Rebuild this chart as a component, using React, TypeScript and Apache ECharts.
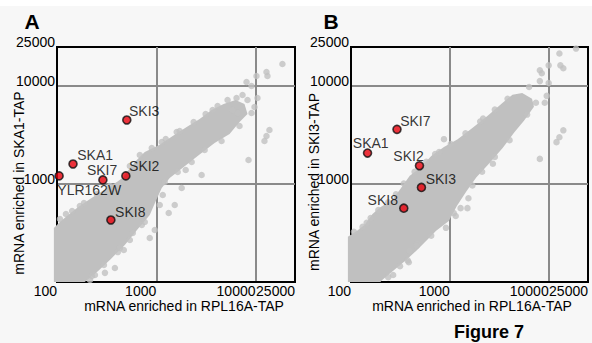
import { useEffect, useRef } from 'react';
import * as echarts from 'echarts';

const FONT = 'Arial, "Liberation Sans", Helvetica, sans-serif';

// Axis extent and tick labels (both panels, both axes: log scale)
const AXIS_MIN = 100;
const AXIS_MAX = 25000;
const xTickLabels = ['100', '1000', '10000', '25000'];
const yTickLabels = ['1000', '10000', '25000'];

const xAxisTitle = 'mRNA enriched in RPL16A-TAP';
const yAxisTitleA = 'mRNA enriched in SKA1-TAP';
const yAxisTitleB = 'mRNA enriched in SKI3-TAP';

// ---------- Panel A (SKA1-TAP vs RPL16A-TAP) ----------
// outline of the dense core of the gray cloud [RPL16A, SKA1]
const cloudOutlineA: number[][] = [
  [93, 100], [93, 356], [107, 410], [126, 471], [159, 569], [215, 703], [297, 869],
  [401, 1048], [471, 1178], [542, 1456], [637, 1758], [766, 2122], [1072, 2500],
  [1465, 3090], [2026, 3817], [2736, 4603], [3613, 5689], [4770, 6550], [6295, 7197],
  [7745, 6550], [8310, 5180], [6906, 4293], [5480, 3236], [3871, 2620], [2613, 1931],
  [1890, 1491], [1367, 1152], [1136, 910], [1000, 687], [860, 483], [652, 347],
  [482, 239], [349, 172], [258, 129], [190, 100],
];
// individual gray points (edges and outliers)
const cloudPointsA: number[][] = [
  [18670, 16770], [12900, 13900], [13200, 12650], [10230, 12650], [8120, 10990],
  [9120, 10000], [6440, 7540], [8310, 7200], [9770, 6106], [5870, 5690], [3696, 5690],
  [6590, 5303], [7400, 8094], [9120, 5303], [10470, 7540],
  [13820, 3556], [12900, 3090], [12310, 2747], [8505, 1758], [2866, 1236], [1804, 910],
  [1535, 611], [1335, 506], [966, 339], [860, 281], [580, 316], [471, 212], [383, 139],
  [304, 124], [215, 105],
  [3072, 2223], [2274, 1677], [1644, 1326], [1217, 1048], [1163, 772], [1084, 611],
  [766, 410], [542, 268], [410, 202], [297, 149], [241, 118],
  [6900, 3910], [4550, 2750], [1980, 1390], [715, 382], [430, 222], [225, 115],
  [1136, 2683], [1607, 3393],
  [107, 440], [142, 530], [187, 640], [252, 791], [341, 954], [683, 1977], [901, 2330],
  [1246, 2879], [1722, 3474], [2382, 4292], [3144, 5179], [4150, 6251],
  [542, 1527], [170, 597], [123, 494], [5230, 7200],
];
const geneNamesA = ['SKI3', 'SKA1', 'SKI7', 'SKI2', 'YLR162W', 'SKI8'];
const geneValuesA: number[][] = [
  [505, 4500], [145, 1600], [290, 1100], [494, 1210], [105, 1210], [349, 429],
];

// ---------- Panel B (SKI3-TAP vs RPL16A-TAP) ----------
const cloudOutlineB: number[][] = [
  [93, 100], [93, 290], [115, 333], [138, 383], [165, 494], [198, 580], [260, 683],
  [313, 880], [393, 1217], [505, 1465], [648, 1934], [872, 2382], [1200, 2866],
  [1728, 3784], [2432, 4994], [3423, 6747], [4300, 8120], [5400, 8505], [6784, 7400],
  [7100, 6150], [5653, 4448], [4500, 3371], [3423, 2328], [2432, 1570], [1850, 1163],
  [1473, 841], [1173, 594], [977, 420], [727, 333], [578, 264], [461, 210], [367, 170],
  [279, 135], [207, 105], [198, 100],
];
const cloudPointsB: number[][] = [
  [18920, 24090], [12840, 21460], [10000, 16250], [8140, 14480], [13140, 16250],
  [14070, 15170], [8520, 13510], [8140, 11220], [10000, 10720], [6337, 9772],
  [9550, 7933], [9125, 6747], [7431, 6747],
  [14070, 3530], [12840, 3001], [12000, 2674], [8140, 1804], [2726, 1607], [1542, 715],
  [1507, 567], [1285, 567], [1147, 471], [913, 357], [471, 247], [393, 210], [375, 166],
  [267, 118], [238, 112], [461, 235], [384, 159], [872, 2866],
  [6050, 5110], [4020, 2800], [2850, 1890], [2120, 1335], [1690, 966], [1095, 505],
  [648, 297], [313, 145],
  [107, 325], [131, 365], [158, 450], [189, 542], [238, 652], [285, 784], [342, 1012],
  [440, 1335], [578, 1683], [778, 2121], [1023, 2553], [1440, 3293], [2027, 4347],
  [2853, 5738], [3837, 7400], [710, 2026], [2170, 4660], [144, 401],
];
const geneNamesB = ['SKI7', 'SKA1', 'SKI2', 'SKI3', 'SKI8'];
const geneValuesB: number[][] = [
  [292, 3610], [147, 2070], [493, 1535], [516, 922], [342, 567],
];

// label placement (style only): offset from the dot centre, and alignment
const labelPlacement: Record<string, { dx: number; dy: number; align: string }> = {
  'A:SKI3': { dx: 3, dy: -8, align: 'left' },
  'A:SKA1': { dx: 5, dy: -8, align: 'left' },
  'A:SKI7': { dx: 0, dy: -9, align: 'center' },
  'A:SKI2': { dx: 4, dy: -9, align: 'left' },
  'A:YLR162W': { dx: -1, dy: 15, align: 'left' },
  'A:SKI8': { dx: 5, dy: -7, align: 'left' },
  'B:SKI7': { dx: 4, dy: -8, align: 'left' },
  'B:SKA1': { dx: 4, dy: -9, align: 'center' },
  'B:SKI2': { dx: 5, dy: -9, align: 'right' },
  'B:SKI3': { dx: 5, dy: -8, align: 'left' },
  'B:SKI8': { dx: -5, dy: -7, align: 'right' },
};

const CLOUD = '#c0c0c0';
const GRID_LINE = '#8a8a8a';
const DOT = 8;

function xAxis(gridIndex: number) {
  return {
    type: 'log', logBase: 10, gridIndex, min: AXIS_MIN, max: AXIS_MAX,
    axisLine: { show: true, lineStyle: { color: '#000', width: 2 } },
    axisTick: { show: false },
    splitLine: { show: true, showMinLine: false, showMaxLine: false, lineStyle: { color: GRID_LINE, width: 2 } },
    axisLabel: {
      color: '#000', fontFamily: FONT, fontSize: 14, align: 'right', verticalAlign: 'top',
      lineHeight: 14, margin: 2, showMinLabel: true, showMaxLabel: true,
      formatter: (v: number) => {
        const s = String(Math.round(v));
        return xTickLabels.includes(s) ? s : '';
      },
    },
  };
}

function yAxis(gridIndex: number) {
  return {
    type: 'log', logBase: 10, gridIndex, min: AXIS_MIN, max: AXIS_MAX,
    axisLine: { show: true, lineStyle: { color: '#000', width: 2 } },
    axisTick: { show: false },
    splitLine: { show: true, showMinLine: false, showMaxLine: false, lineStyle: { color: GRID_LINE, width: 2 } },
    axisLabel: {
      color: '#000', fontFamily: FONT, fontSize: 14, align: 'right', verticalAlign: 'bottom',
      lineHeight: 10, margin: 2, showMinLabel: false, showMaxLabel: true,
      formatter: (v: number) => {
        const s = String(Math.round(v));
        return yTickLabels.includes(s) ? s : '';
      },
    },
  };
}

function cloudSeries(idx: number, outline: number[][], points: number[][]) {
  return [
    {
      type: 'custom', xAxisIndex: idx, yAxisIndex: idx, silent: true, clip: false, z: 2,
      data: outline,
      renderItem: (params: any, api: any) => {
        if (params.dataIndex !== 0) return null;
        return {
          type: 'polygon',
          shape: { points: outline.map((p) => api.coord(p)) },
          style: { fill: CLOUD },
        };
      },
    },
    {
      type: 'scatter', xAxisIndex: idx, yAxisIndex: idx, silent: true, z: 3,
      symbolSize: 6.5, itemStyle: { color: CLOUD }, data: points,
    },
  ];
}

function geneSeries(idx: number, panel: string, names: string[], values: number[][]) {
  return {
    type: 'scatter', xAxisIndex: idx, yAxisIndex: idx, z: 5, symbolSize: DOT,
    itemStyle: { color: '#e8000b', borderColor: '#111', borderWidth: 1.6 },
    data: names.map((n, i) => {
      const p = labelPlacement[panel + ':' + n];
      return {
        name: n, value: values[i],
        label: {
          show: true, formatter: n, position: [DOT / 2 + p.dx, DOT / 2 + p.dy],
          align: p.align, verticalAlign: 'middle', lineHeight: 11,
          color: '#000', fontFamily: FONT, fontSize: 14,
        },
      };
    }),
  };
}

export default function App() {
  const ref = useRef<HTMLDivElement>(null);
  useEffect(() => {
    if (!ref.current) return;
    const chart = echarts.init(ref.current, undefined, { renderer: 'svg' });
    const textStyle = (text: string, size = 14, weight = 'normal') => ({
      text, fill: '#000', fontFamily: FONT, fontSize: size, fontWeight: weight,
      align: 'center', verticalAlign: 'middle',
    });
    chart.setOption({
      animation: false,
      backgroundColor: '#f7f7f7',
      grid: [
        { left: 57, top: 47, width: 238, height: 235, show: true, borderColor: '#000', borderWidth: 2, backgroundColor: 'transparent', outerBoundsMode: 'none', containLabel: false },
        { left: 351, top: 47, width: 237, height: 235, show: true, borderColor: '#000', borderWidth: 2, backgroundColor: 'transparent', outerBoundsMode: 'none', containLabel: false },
      ],
      xAxis: [xAxis(0), xAxis(1)],
      yAxis: [yAxis(0), yAxis(1)],
      series: [
        ...cloudSeries(0, cloudOutlineA, cloudPointsA),
        ...cloudSeries(1, cloudOutlineB, cloudPointsB),
        geneSeries(0, 'A', geneNamesA, geneValuesA),
        geneSeries(1, 'B', geneNamesB, geneValuesB),
      ],
      graphic: [
        { type: 'rect', left: 0, top: 0, shape: { width: 592, height: 6 }, style: { fill: '#ffffff' }, silent: true },
        { type: 'text', x: 32, y: 21, style: textStyle('A', 21, 'bold') },
        { type: 'text', x: 331, y: 21, style: textStyle('B', 21, 'bold') },
        { type: 'text', x: 19, y: 183, rotation: Math.PI / 2, style: textStyle(yAxisTitleA) },
        { type: 'text', x: 314, y: 182, rotation: Math.PI / 2, style: textStyle(yAxisTitleB) },
        { type: 'text', x: 184, y: 306, style: textStyle(xAxisTitle) },
        { type: 'text', x: 472, y: 306, style: textStyle(xAxisTitle) },
        { type: 'text', x: 489, y: 332, style: textStyle('Figure 7', 18, 'bold') },
      ],
    });
    return () => chart.dispose();
  }, []);
  return <div ref={ref} style={{ position: 'absolute', left: 0, top: 0, width: 592, height: 343 }} />;
}
